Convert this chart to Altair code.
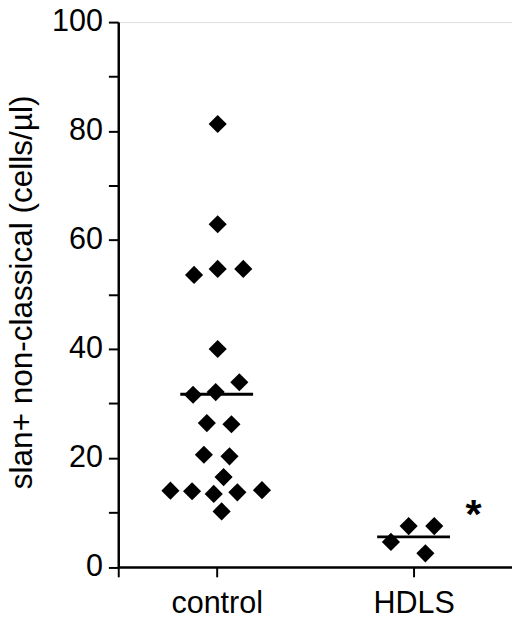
import altair as alt
import pandas as pd

# values (cells/ul)
control_values = [81.3, 62.9, 53.6, 54.7, 54.7, 40.0, 33.9, 31.6, 32.1, 26.4,
                  26.2, 20.6, 20.3, 16.5, 14.0, 13.9, 13.4, 13.7, 14.1, 10.2]
hdls_values = [4.6, 7.5, 7.5, 2.5]

# horizontal scatter of each diamond around its group centre (axis units)
control_jitter = [0.01, 0.01, -0.23, 0.01, 0.27, 0.01, 0.23, -0.24, -0.01, -0.10,
                  0.15, -0.13, 0.13, 0.07, -0.47, -0.25, -0.03, 0.21, 0.46, 0.05]
hdls_jitter = [-0.23, -0.05, 0.21, 0.12]

groups = ["control", "HDLS"]
group_centres = [1, 3]
sig_labels = ["", "*"]

FONT = "Liberation Sans"

rows = []
for g, c, vals, jit in zip(groups, group_centres,
                           [control_values, hdls_values],
                           [control_jitter, hdls_jitter]):
    for v, j in zip(vals, jit):
        rows.append({"group": g, "centre": c, "value": v, "pos": c + j})
df = pd.DataFrame(rows)

sig_df = pd.DataFrame({"group": groups, "centre": group_centres, "sig": sig_labels})
sig_df = sig_df.merge(df.groupby("group", as_index=False)["value"].max(), on="group")

label_expr = " : ".join(
    f"datum.value == {c} ? '{g}'" for g, c in zip(groups, group_centres)
) + " : ''"

x_scale = alt.Scale(domain=[0, 4], nice=False, zero=False)
y_scale = alt.Scale(domain=[0, 100], nice=False)

x_axis = alt.Axis(
    values=[0] + group_centres, labelExpr=label_expr, title=None, grid=False,
    tickSize=10, tickWidth=2, domainWidth=2.5, domainColor="black", tickColor="black",
    labelFont=FONT, labelFontSize=31, labelColor="black", labelPadding=12,
)
y_axis = alt.Axis(
    values=list(range(0, 101, 10)), labelExpr="datum.value % 20 == 0 ? datum.label : ''",
    title="slan+ non-classical (cells/µl)", grid=False,
    tickSize=10, tickWidth=2, domainWidth=2.5, domainColor="black", tickColor="black",
    labelFont=FONT, labelFontSize=31, labelColor="black", labelPadding=6,
    titleFont=FONT, titleFontSize=32, titleFontWeight="normal", titleColor="black",
    titleX=-88, titleY=274, titleBaseline="alphabetic",
)

points = alt.Chart(df).mark_point(
    shape="diamond", filled=True, size=340, color="black", opacity=1
).encode(
    x=alt.X("pos:Q", scale=x_scale, axis=x_axis),
    y=alt.Y("value:Q", scale=y_scale, axis=y_axis),
)

means = alt.Chart(df).transform_aggregate(
    mean="mean(value)", groupby=["group", "centre"]
).mark_tick(orient="horizontal", size=74, thickness=3, color="black", opacity=1).encode(
    x=alt.X("centre:Q", scale=x_scale),
    y=alt.Y("mean:Q", scale=y_scale),
)

stars = alt.Chart(sig_df).mark_text(
    font=FONT, fontSize=42, fontWeight="bold", color="black",
    align="center", baseline="alphabetic", dx=61, dy=2
).encode(
    x=alt.X("centre:Q", scale=x_scale),
    y=alt.Y("value:Q", scale=y_scale),
    text="sig:N",
)

chart = alt.layer(points, means, stars).properties(
    width=400, height=553.5,
    autosize=alt.AutoSizeParams(type="none"),
    padding={"left": 112, "top": 9.5, "right": 0, "bottom": 46},
).configure_view(strokeWidth=0).configure(background="white")

chart.save("out.html", embed_options={"renderer": "svg", "actions": False})
